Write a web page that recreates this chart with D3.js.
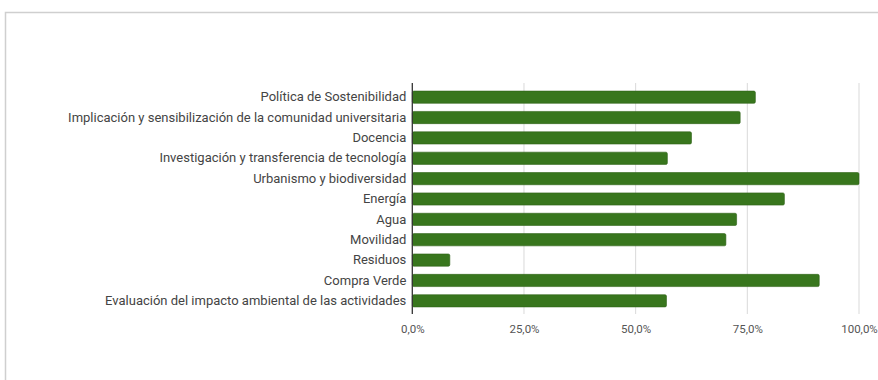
<!DOCTYPE html>
<html>
<head>
<meta charset="utf-8">
<script src="https://cdn.jsdelivr.net/npm/d3@7"></script>
<style>
  body { margin: 0; background: #fff; }
  text { font-family: Roboto, "Noto Sans", sans-serif; }
</style>
</head>
<body>
<div id="chart"></div>
<script>
const w = 878;
const h = 380;

const categories = [
  "Política de Sostenibilidad",
  "Implicación y sensibilización de la comunidad universitaria",
  "Docencia",
  "Investigación y transferencia de tecnología",
  "Urbanismo y biodiversidad",
  "Energía",
  "Agua",
  "Movilidad",
  "Residuos",
  "Compra Verde",
  "Evaluación del impacto ambiental de las actividades"
];
const values = [0.768, 0.734, 0.625, 0.571, 1.0, 0.833, 0.726, 0.702, 0.084, 0.911, 0.569];
const tickValues = [0, 0.25, 0.5, 0.75, 1];

const svg = d3.select('#chart')
  .append('svg')
  .attr('width', w)
  .attr('height', h);

// card frame
svg.append('path')
  .attr('d', 'M5.5,' + h + ' V12.5 H' + w)
  .attr('fill', 'none')
  .attr('stroke', '#cfcfcf')
  .attr('stroke-width', 1.5);

const x = d3.scaleLinear()
  .domain([0, 1])
  .range([412.3, 859]);

const y = d3.scaleBand()
  .domain(categories)
  .range([87, 311])
  .paddingInner(0.4)
  .paddingOuter(0.2);

const fmt = function(d) { return d3.format('.1f')(d * 100).replace('.', ',') + '%'; };

// gridlines
svg.selectAll('line.grid')
  .data(tickValues.slice(1))
  .enter()
  .append('line')
  .attr('class', 'grid')
  .attr('x1', function(d) { return x(d); })
  .attr('x2', function(d) { return x(d); })
  .attr('y1', 83)
  .attr('y2', 314)
  .attr('stroke', '#d9d9d9')
  .attr('stroke-width', 1);

// bars
svg.selectAll('rect.bar')
  .data(values)
  .enter()
  .append('rect')
  .attr('class', 'bar')
  .attr('x', x(0))
  .attr('y', function(d, i) { return y(categories[i]); })
  .attr('width', function(d) { return x(d) - x(0); })
  .attr('height', y.bandwidth())
  .attr('rx', 1.5)
  .attr('fill', '#38761d')
  .attr('stroke', '#2f6318')
  .attr('stroke-width', 0.6);

// baseline
svg.append('line')
  .attr('x1', x(0))
  .attr('x2', x(0))
  .attr('y1', 83)
  .attr('y2', 314)
  .attr('stroke', '#333')
  .attr('stroke-width', 1.3);

// x axis labels
const xAxis = d3.axisBottom(x)
  .tickValues(tickValues)
  .tickFormat(fmt)
  .tickSize(0)
  .tickPadding(8);

const gx = svg.append('g')
  .attr('transform', 'translate(0,317)')
  .call(xAxis);
gx.select('.domain').remove();
gx.selectAll('text')
  .attr('font-size', '11.5px')
  .attr('fill', '#555')
  .attr('font-family', 'Roboto, sans-serif');

// y axis labels
const yAxis = d3.axisLeft(y)
  .tickSize(0)
  .tickPadding(6);

const gy = svg.append('g')
  .attr('transform', 'translate(' + x(0) + ',0)')
  .call(yAxis);
gy.select('.domain').remove();
gy.selectAll('text')
  .attr('font-size', '13px')
  .attr('fill', '#444')
  .attr('font-family', 'Roboto, sans-serif');
</script>
</body>
</html>
